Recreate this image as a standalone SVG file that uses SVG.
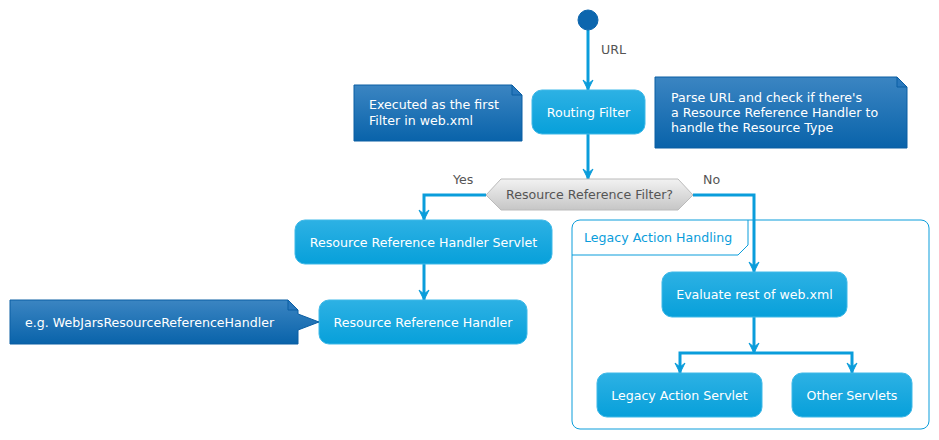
<svg xmlns="http://www.w3.org/2000/svg" width="939" height="440" viewBox="0 0 939 440">
<defs>
<linearGradient id="gAct" x1="0" y1="0" x2="0" y2="1"><stop offset="0" stop-color="#2DB1E4"/><stop offset="1" stop-color="#07A0DA"/></linearGradient>
<linearGradient id="gNote" x1="0" y1="0" x2="0" y2="1"><stop offset="0" stop-color="#3B85C2"/><stop offset="1" stop-color="#0963AA"/></linearGradient>
<linearGradient id="gDia" x1="0" y1="0" x2="0" y2="1"><stop offset="0" stop-color="#F2F2F2"/><stop offset="1" stop-color="#C6C6C6"/></linearGradient>
<marker id="arr" markerUnits="userSpaceOnUse" markerWidth="12" markerHeight="12" viewBox="-1 -6 12 12" refX="10" refY="0" orient="auto">
<path d="M0,-5 L10,0 L0,5 L4,0 Z" fill="#0A9DDB" stroke="#0A9DDB" stroke-width="1"/>
</marker>
<style>
.act{fill:url(#gAct);stroke:#3FB9E8;stroke-width:1}
.note{fill:url(#gNote);stroke:#0A5EA3;stroke-width:1}
.fold{fill:#2A78BC;stroke:#0A5EA3;stroke-width:1}
.t{font-family:"DejaVu Sans",sans-serif;font-size:12.6px}
.w{fill:#FFFFFF}
.g{fill:#555555}
.c{text-anchor:middle}
.ln{fill:none;stroke:#0A9DDB;stroke-width:3}
.lnm{fill:none;stroke:#0A9DDB;stroke-width:3;marker-end:url(#arr)}
</style>
</defs>
<rect width="939" height="440" fill="#FFFFFF"/>

<g id="frame-legacy">
<rect x="572" y="220" width="357" height="209" rx="8" fill="none" stroke="#0A9DDB" stroke-width="1"/>
<path d="M572,255 L738,255 L748,245 L748,220" fill="none" stroke="#0A9DDB" stroke-width="1"/>
<text class="t" x="584" y="242" fill="#0A9DDB">Legacy Action Handling</text>
</g>

<g id="connectors">
<line class="lnm" x1="588" y1="30" x2="588" y2="90"/>
<text class="t g" x="601" y="54">URL</text>
<line class="lnm" x1="588" y1="134" x2="588" y2="179"/>
<polyline class="lnm" points="486,195 424,195 424,220"/>
<text class="t g" x="453" y="184">Yes</text>
<polyline class="lnm" points="693,195 754,195 754,272"/>
<text class="t g" x="703" y="184">No</text>
<line class="lnm" x1="424" y1="264" x2="424" y2="300"/>
<line class="lnm" x1="754" y1="317" x2="754" y2="353"/>
<polyline class="lnm" points="754,353 680,353 680,373"/>
<polyline class="lnm" points="754,353 852,353 852,373"/>
</g>

<g id="start">
<circle cx="588" cy="20" r="10" fill="#0C66AE" stroke="#0C66AE"/>
</g>

<g id="routing-filter">
<rect class="act" x="532" y="90" width="113" height="44" rx="10"/>
<text class="t w c" x="588.5" y="116.5">Routing Filter</text>
</g>

<g id="note-first">
<path class="note" d="M354,85 L512,85 L522,95 L522,141 L354,141 Z"/>
<path class="fold" d="M512,85 L512,95 L522,95 Z"/>
<text class="t w" x="369" y="109">Executed as the first</text>
<text class="t w" x="369" y="125">Filter in web.xml</text>
</g>

<g id="note-parse">
<path class="note" d="M655,77 L897,77 L907,87 L907,148 L655,148 Z"/>
<path class="fold" d="M897,77 L897,87 L907,87 Z"/>
<text class="t w" x="671" y="102">Parse URL and check if there's</text>
<text class="t w" x="671" y="117">a Resource Reference Handler to</text>
<text class="t w" x="671" y="132">handle the Resource Type</text>
</g>

<g id="decision">
<polygon points="486,195 501,179 678,179 693,195 678,210 501,210" fill="url(#gDia)" stroke="#BBBBBB" stroke-width="1"/>
<text class="t g c" x="589.5" y="199">Resource Reference Filter?</text>
</g>

<g id="rr-servlet">
<rect class="act" x="295" y="220" width="257" height="44" rx="10"/>
<text class="t w c" x="423.5" y="246.5">Resource Reference Handler Servlet</text>
</g>

<g id="rr-handler">
<rect class="act" x="319" y="300" width="208" height="44" rx="10"/>
<text class="t w c" x="423" y="326.5">Resource Reference Handler</text>
</g>

<g id="note-webjars">
<path class="note" d="M10,300 L288,300 L298,310 L298,314 L319,322 L298,330 L298,344 L10,344 Z"/>
<path class="fold" d="M288,300 L288,310 L298,310 Z"/>
<text class="t w" x="25" y="326.5">e.g. WebJarsResourceReferenceHandler</text>
</g>

<g id="evaluate">
<rect class="act" x="662" y="272" width="185" height="45" rx="10"/>
<text class="t w c" x="754.5" y="299">Evaluate rest of web.xml</text>
</g>

<g id="legacy-servlet">
<rect class="act" x="597" y="373" width="165" height="44" rx="10"/>
<text class="t w c" x="679.5" y="399.5">Legacy Action Servlet</text>
</g>

<g id="other-servlets">
<rect class="act" x="792" y="373" width="120" height="44" rx="10"/>
<text class="t w c" x="852" y="399.5">Other Servlets</text>
</g>
</svg>
